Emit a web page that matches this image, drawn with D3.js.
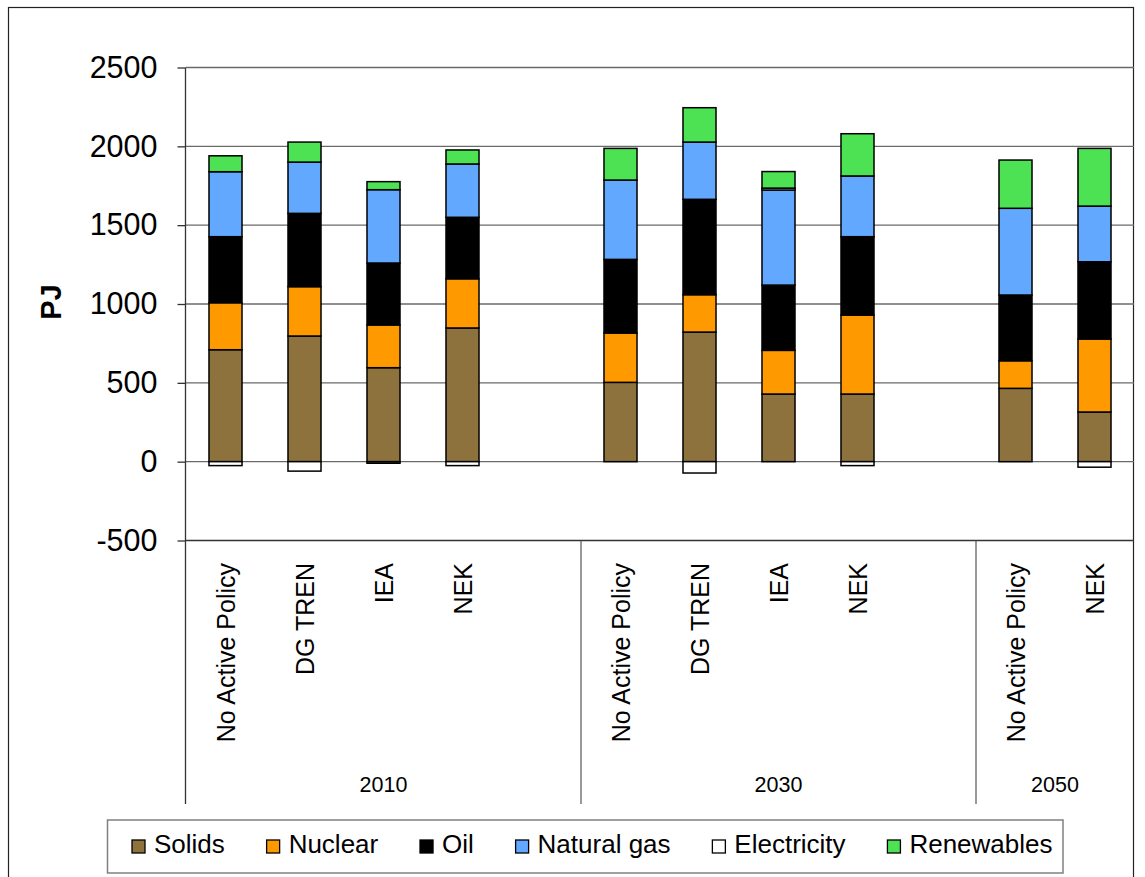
<!DOCTYPE html>
<html>
<head>
<meta charset="utf-8">
<script src="https://cdn.jsdelivr.net/npm/d3@7"></script>
<style>
  html, body { margin: 0; padding: 0; background: #fff; }
  svg { display: block; font-family: "Liberation Sans", Arial, sans-serif; }
</style>
</head>
<body>
<script>
// Final energy demand by fuel (PJ), per scenario and year
const years = ["2010", "2030", "2050"];
const scenarios2010 = ["No Active Policy", "DG TREN", "IEA", "NEK"];
const scenarios2030 = ["No Active Policy", "DG TREN", "IEA", "NEK"];
const scenarios2050 = ["No Active Policy", "NEK"];

const fuels = ["Solids", "Nuclear", "Oil", "Natural gas", "Electricity", "Renewables"];
const fuelColors = ["#8e723e", "#ff9900", "#000000", "#62a8ff", "#ffffff", "#4de253"];

// one value per bar, in order 2010 (4), 2030 (4), 2050 (2)
const solids      = [710, 797, 596, 848, 503, 822, 429, 429, 465, 315];
const nuclear     = [298, 313, 271, 312, 313, 237, 277, 501, 175, 463];
const oil         = [419, 465, 393, 390, 467, 605, 414, 497, 417, 490];
const naturalGas  = [412, 325, 465, 338, 503, 363, 603, 385, 550, 353];
const electricity = [-25, -60, -10, -25, 0, -72, 12, -25, 0, -35];
const renewables  = [101, 127, 51, 89, 201, 218, 105, 268, 306, 366];

const yTicks = [-500, 0, 500, 1000, 1500, 2000, 2500];

// ---- build rows and category slots (a blank slot closes every group but the last)
const groups = [
  { year: years[0], scenarios: scenarios2010 },
  { year: years[1], scenarios: scenarios2030 },
  { year: years[2], scenarios: scenarios2050 }
];
const series = [solids, nuclear, oil, naturalGas, electricity, renewables];

const rows = [];
const slots = [];
let k = 0;
groups.forEach((g, gi) => {
  g.slotStart = slots.length;
  g.scenarios.forEach(s => {
    const key = g.year + "|" + s;
    const row = { key, year: g.year, scenario: s };
    fuels.forEach((f, fi) => row[f] = series[fi][k]);
    rows.push(row);
    slots.push(key);
    k++;
  });
  if (gi < groups.length - 1) slots.push(g.year + "|blank");
  g.slotEnd = slots.length;
});

// ---- layout
const W = 1145, H = 877;
const plot = { left: 186, right: 1134, top: 67.5, bottom: 540.5 };

const svg = d3.select("body").append("svg").attr("width", W).attr("height", H);

const x = d3.scaleBand().domain(slots).range([plot.left, plot.right]).padding(0);
const y = d3.scaleLinear().domain([-500, 2500]).range([plot.bottom, plot.top]);
const color = d3.scaleOrdinal().domain(fuels).range(fuelColors);

// outer chart frame
svg.append("rect")
  .attr("x", 8.5).attr("y", 7.5)
  .attr("width", 1125).attr("height", 900)
  .attr("fill", "none").attr("stroke", "#222").attr("stroke-width", 1.2);

// horizontal gridlines
svg.append("g").selectAll("line")
  .data(yTicks.filter(t => t > -500))
  .join("line")
  .attr("x1", plot.left).attr("x2", plot.right)
  .attr("y1", d => y(d)).attr("y2", d => y(d))
  .attr("stroke", "#6a6a6a").attr("stroke-width", 1.3);

// stacked bars (negatives stack downward from zero)
const stacked = d3.stack().keys(fuels).offset(d3.stackOffsetDiverging)(rows);
const barW = x.bandwidth() * 0.418;

svg.append("g").selectAll("g")
  .data(stacked)
  .join("g")
  .attr("fill", d => color(d.key))
  .selectAll("rect")
  .data(d => d.filter(p => Math.abs(p[1] - p[0]) > 0.5))
  .join("rect")
  .attr("x", d => x(d.data.key) + (x.bandwidth() - barW) / 2)
  .attr("width", barW)
  .attr("y", d => y(Math.max(d[0], d[1])))
  .attr("height", d => Math.abs(y(d[0]) - y(d[1])))
  .attr("stroke", "#000").attr("stroke-width", 1.5);

// value axis (plain hyphen for negative labels)
const yAxis = d3.axisLeft(y).tickValues(yTicks).tickSize(8).tickSizeOuter(0).tickPadding(20).tickFormat(d => String(d));
const yg = svg.append("g").attr("transform", `translate(${plot.left - 0.5},0)`).call(yAxis);
yg.select(".domain").remove();
yg.selectAll(".tick line").attr("stroke", "#333").attr("stroke-width", 1.3);
yg.selectAll(".tick text").attr("font-size", 30.5).attr("fill", "#000")
  .attr("font-family", "'Liberation Sans', Arial, sans-serif");

// axis lines and group dividers
const axisBottom = 804;
svg.append("line").attr("x1", plot.left - 0.5).attr("x2", plot.left - 0.5)
  .attr("y1", plot.top).attr("y2", axisBottom).attr("stroke", "#333").attr("stroke-width", 1.3);
svg.append("line").attr("x1", plot.left).attr("x2", plot.right)
  .attr("y1", plot.bottom).attr("y2", plot.bottom).attr("stroke", "#333").attr("stroke-width", 1.3);
svg.append("g").selectAll("line")
  .data(groups.slice(0, -1))
  .join("line")
  .attr("x1", g => x(slots[g.slotEnd - 1]) + x.bandwidth())
  .attr("x2", g => x(slots[g.slotEnd - 1]) + x.bandwidth())
  .attr("y1", plot.bottom).attr("y2", axisBottom)
  .attr("stroke", "#555").attr("stroke-width", 1.2);

// scenario labels (rotated)
svg.append("g").selectAll("text")
  .data(rows)
  .join("text")
  .attr("transform", d => `translate(${x(d.key) + x.bandwidth() / 2},563) rotate(-90)`)
  .attr("text-anchor", "end")
  .attr("dy", "0.36em")
  .attr("font-size", 25)
  .attr("fill", "#000")
  .text(d => d.scenario);

// year labels centred on each group span
svg.append("g").selectAll("text")
  .data(groups)
  .join("text")
  .attr("x", g => (x(slots[g.slotStart]) + x(slots[g.slotEnd - 1]) + x.bandwidth()) / 2)
  .attr("y", 791.5)
  .attr("text-anchor", "middle")
  .attr("font-size", 21.5)
  .attr("fill", "#000")
  .text(g => g.year);

// axis title
svg.append("text")
  .attr("transform", "translate(51,302) rotate(-90)")
  .attr("text-anchor", "middle")
  .attr("dy", "0.36em")
  .attr("font-size", 29)
  .attr("font-weight", "bold")
  .text("PJ");

// legend
const legend = svg.append("g");
legend.append("rect")
  .attr("x", 107.5).attr("y", 820)
  .attr("width", 955.5).attr("height", 53)
  .attr("fill", "#fff").attr("stroke", "#808080").attr("stroke-width", 1.5);

let lx = 132;
fuels.forEach(f => {
  const item = legend.append("g");
  item.append("rect")
    .attr("x", lx).attr("y", 840)
    .attr("width", 13).attr("height", 13)
    .attr("fill", color(f)).attr("stroke", "#000").attr("stroke-width", 1.3);
  const t = item.append("text")
    .attr("x", lx + 22).attr("y", 853)
    .attr("font-size", 26).attr("fill", "#000")
    .text(f);
  lx += 22 + t.node().getComputedTextLength() + 41.8;
});
</script>
</body>
</html>
